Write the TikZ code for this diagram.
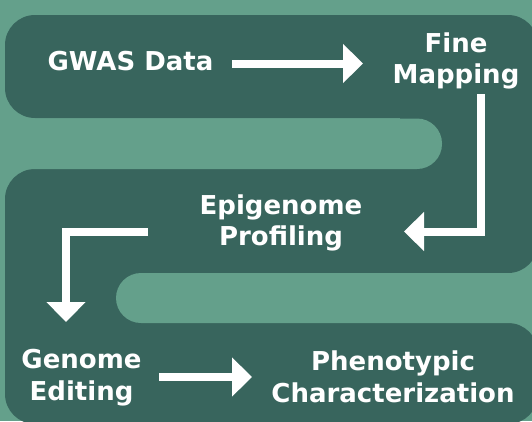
\documentclass[tikz,border=0pt]{standalone}
\usepackage{fontspec}
\setmainfont{DejaVu Sans}
\usetikzlibrary{arrows.meta}
\definecolor{bglight}{RGB}{100,160,139}
\definecolor{banddark}{RGB}{56,101,93}
\tikzset{
  band/.style={fill=banddark, draw=none, rounded corners=30pt},
  gap/.style={fill=bglight, draw=none, rounded corners=25pt},
  label/.style={text=white, font=\fontsize{26pt}{31.5pt}\selectfont\bfseries, align=center, inner sep=0pt},
  flow/.style={draw=white, line width=8pt, line join=miter, -{Triangle[length=20pt,width=38pt]}}
}
\begin{document}
\begin{tikzpicture}[x=1pt,y=-1pt]
\useasboundingbox (0,0) rectangle (532,421);
\fill[bglight] (0,0) rectangle (532,421);
% bands
\fill[band] (5,15) rectangle (538,118);
\fill[band] (5,169) rectangle (538,273);
\fill[band] (5,323) rectangle (538,424);
% connectors
\fill[banddark] (400,90) rectangle (538,195);
\fill[banddark] (5,245) rectangle (160,350);
% gaps
\fill[gap] (-60,118.5) rectangle (442,169);
\fill[gap] (116,273) rectangle (600,323);
% labels
\node[label, anchor=base] (gwas) at (130.5,70) {GWAS Data};
\node[label] (fine) at (456,61) {Fine\\Mapping};
\node[label] (epi) at (281,223) {Epigenome\\Profiling};
\node[label] (edit) at (81.5,377.5) {Genome\\Editing};
\node[label] (pheno) at (393,377) {Phenotypic\\Characterization};
% arrow endpoints
\coordinate (a1s) at (232,63.5);
\coordinate (a1e) at (363,63.5);
\coordinate (a2s) at (480.5,94);
\coordinate (a2c) at (480.5,231.5);
\coordinate (a2e) at (404,231.5);
\coordinate (a3s) at (148,232);
\coordinate (a3c) at (66,232);
\coordinate (a3e) at (66,322);
\coordinate (a4s) at (159,377);
\coordinate (a4e) at (252,377);
% arrows
\draw[flow] (a1s) -- (a1e);
\draw[flow] (a2s) -- (a2c) -- (a2e);
\draw[flow] (a3s) -- (a3c) -- (a3e);
\draw[flow] (a4s) -- (a4e);
\end{tikzpicture}
\end{document}
